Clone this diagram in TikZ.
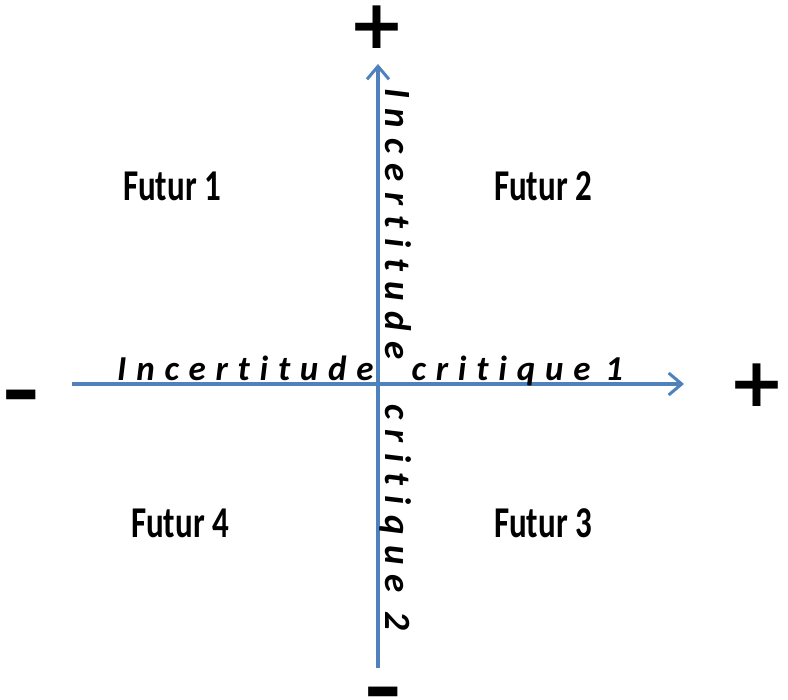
\documentclass[tikz,border=0pt]{standalone}
\usepackage{fontspec}
\usetikzlibrary{arrows.meta}
\newfontfamily\axisfont[LetterSpace=28,Ligatures={NoCommon}]{Carlito}
\newfontfamily\futfont[FakeStretch=0.75]{Carlito}
\newfontfamily\signfont{DejaVu Sans}
\definecolor{axisblue}{HTML}{4F81BD}
\tikzset{
  axis/.style={draw=axisblue, line width=3.5pt, -{Straight Barb[length=13pt,width=22pt,line width=3pt]}},
  fut/.style={font=\futfont\bfseries\fontsize{44}{48}\selectfont, inner sep=0pt},
  sign/.style={font=\signfont\bfseries\fontsize{68}{72}\selectfont, inner sep=0pt, text height=0.6em, text depth=0pt},
  hlab/.style={font=\axisfont\bfseries\itshape\fontsize{35}{40}\selectfont, inner sep=0pt},
  vlab/.style={font=\axisfont\bfseries\itshape\fontsize{37}{40}\selectfont, inner sep=0pt, rotate=-90},
}
\begin{document}
\begin{tikzpicture}[x=1pt,y=-1pt]
\useasboundingbox (0,0) rectangle (788,700);
\coordinate (hs) at (72,384);
\coordinate (he) at (684,384);
\coordinate (vs) at (378,668);
\coordinate (ve) at (378,64);
\draw[axis] (hs) -- (he);
\draw[axis] (vs) -- (ve);
\node[hlab, anchor=base west] (hl) at (117,381) {Incertitude\hspace{38pt}critique\hspace{-3pt} 1};
\node[vlab, anchor=base west] (vl) at (385,88) {Incertitude\hspace{26pt} critique 2};
\node[fut] (f1) at (172,186) {Futur 1};
\node[fut] (f2) at (543,186) {Futur 2};
\node[fut] (f3) at (543,523) {Futur 3};
\node[fut] (f4) at (180,523) {Futur 4};
\node[sign, anchor=base] (pt) at (377,49) {+};
\node[sign, anchor=base] (pr) at (757,407) {+};
\node[sign, anchor=base, xscale=1.4] (ml) at (21,415) {-};
\node[sign, anchor=base, xscale=1.4] (mb) at (383,711) {-};
\end{tikzpicture}
\end{document}
